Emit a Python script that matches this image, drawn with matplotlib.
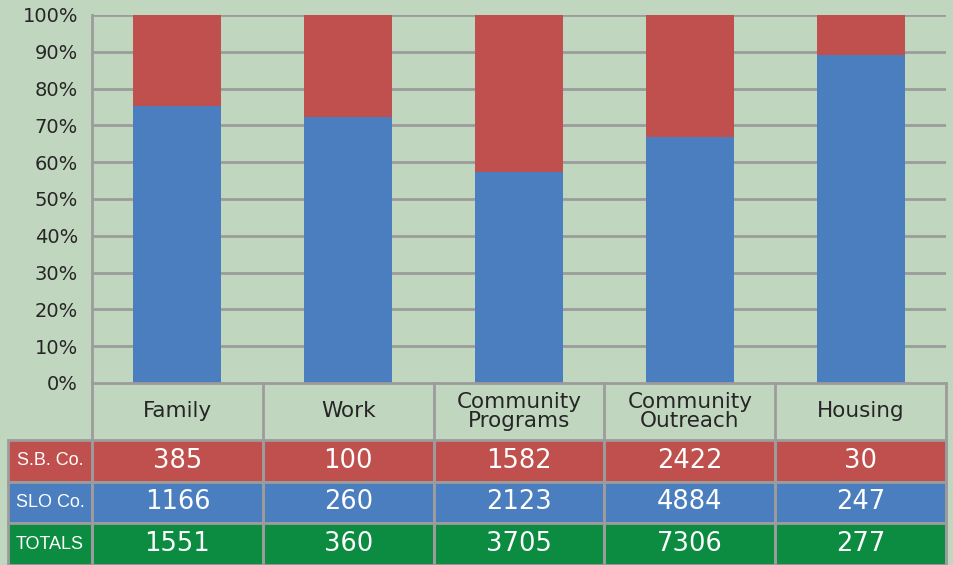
import matplotlib.pyplot as plt
from matplotlib.patches import Rectangle
from matplotlib.ticker import FuncFormatter

categories = ['Family', 'Work', 'Community\nPrograms', 'Community\nOutreach', 'Housing']
sb_co = [385, 100, 1582, 2422, 30]
slo_co = [1166, 260, 2123, 4884, 247]
totals = [1551, 360, 3705, 7306, 277]
row_labels = ['S.B. Co.', 'SLO Co.', 'TOTALS']

red = '#c0504d'
blue = '#4a7ebf'
green = '#0b8c41'
bg = '#c1d6bf'
grid_c = '#9c9c9c'

W, H = 954, 565
fig = plt.figure(figsize=(W / 100, H / 100), dpi=100, facecolor=bg)

# chart area
ax = fig.add_axes([92 / W, (H - 383) / H, (946 - 92) / W, (383 - 15) / H])
ax.set_facecolor('none')
n = len(categories)
x = range(n)
slo_pct = [100.0 * s / t for s, t in zip(slo_co, totals)]
sb_pct = [100.0 * s / t for s, t in zip(sb_co, totals)]
ax.bar(x, slo_pct, width=0.515, color=blue, zorder=3)
ax.bar(x, sb_pct, width=0.515, bottom=slo_pct, color=red, zorder=3)
ax.set_xlim(-0.5, n - 0.5)
ax.set_ylim(0, 100)
ax.set_yticks(range(0, 101, 10))
ax.yaxis.set_major_formatter(FuncFormatter(lambda v, p: '%d%%' % v))
ax.tick_params(axis='y', length=0, labelsize=14, colors='#262626', pad=10)
ax.set_xticks([])
for v in range(10, 101, 10):
    ax.axhline(v, color=grid_c, lw=2, zorder=1)
for s in ['top', 'right', 'bottom']:
    ax.spines[s].set_visible(False)
ax.spines['left'].set_color(grid_c)
ax.spines['left'].set_linewidth(2)

# table area below the chart (182 px tall)
tab_h = H - 383
tax = fig.add_axes([8 / W, 0, (946 - 8) / W, tab_h / H])
tax.set_facecolor('none')
cat_w = (946 - 92) / n
lab_w = 84 / cat_w
tax.set_xlim(-0.5 - lab_w, n - 0.5)
tax.set_ylim(0, tab_h)
tax.axis('off')

row_h = 41.7
rows = [(sb_co, red), (slo_co, blue), (totals, green)]
header_top = tab_h
header_bot = 3 * row_h

# header row
tax.plot([-0.5, n - 0.5], [header_top, header_top], color=grid_c, lw=2, clip_on=False)
for i in range(n + 1):
    tax.plot([i - 0.5, i - 0.5], [0, header_top], color=grid_c, lw=2, clip_on=False, zorder=5)
for i, c in enumerate(categories):
    tax.text(i, (header_top + header_bot) / 2, c, ha='center', va='center',
             fontsize=15.5, color='#262626', linespacing=0.9)

# data rows
for r, (vals, col) in enumerate(rows):
    y0 = header_bot - (r + 1) * row_h
    tax.add_patch(Rectangle((-0.5 - lab_w, y0), lab_w, row_h, facecolor=col,
                            edgecolor=grid_c, lw=2, clip_on=False))
    tax.text(-0.5 - lab_w / 2, y0 + row_h / 2, row_labels[r], ha='center', va='center',
             fontsize=13, color='white', family='Liberation Sans')
    for i, v in enumerate(vals):
        tax.add_patch(Rectangle((i - 0.5, y0), 1, row_h, facecolor=col,
                                edgecolor=grid_c, lw=2, clip_on=False))
        tax.text(i, y0 + row_h / 2, str(v), ha='center', va='center',
                 fontsize=18.5, color='white')

fig.savefig('out.png', dpi=100, facecolor=bg)
